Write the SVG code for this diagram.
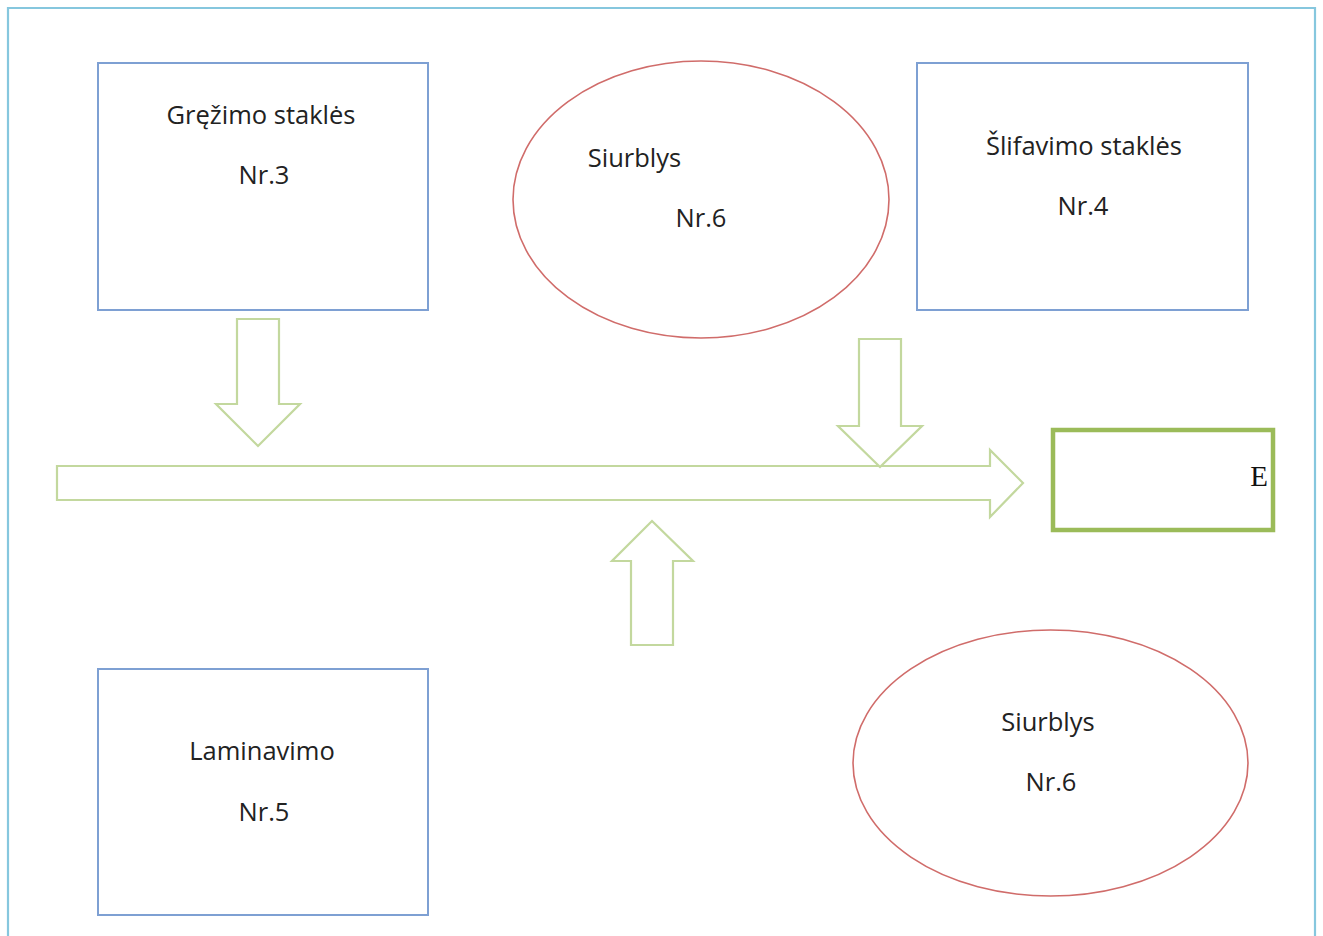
<svg xmlns="http://www.w3.org/2000/svg" width="1323" height="936" viewBox="0 0 1323 936">
  <style>
    .machine { fill: #ffffff; stroke: #7ea0d3; stroke-width: 2; }
    .pump { fill: #ffffff; stroke: #d06c6a; stroke-width: 1.6; }
    .flow { fill: #ffffff; stroke: #c3d89e; stroke-width: 2.2; stroke-linejoin: miter; }
    .label { font-family: "Open Sans", "Liberation Sans", sans-serif; font-size: 25.5px; fill: #222222; text-anchor: middle; }
  </style>
  <rect x="0" y="0" width="1323" height="936" fill="#ffffff"/>
  <!-- outer frame -->
  <path d="M8 940 V8 H1315 V940" fill="none" stroke="#86c7de" stroke-width="2.2"/>

  <g id="node-grezimo">
    <rect class="machine" x="98" y="63" width="330" height="247"/>
    <text class="label" x="261" y="124">Gręžimo staklės</text>
    <text class="label" x="264" y="184">Nr.3</text>
  </g>

  <g id="node-siurblys-top">
    <ellipse class="pump" cx="701" cy="199.5" rx="188" ry="138.5"/>
    <text class="label" x="634.5" y="167">Siurblys</text>
    <text class="label" x="701" y="227">Nr.6</text>
  </g>

  <g id="node-slifavimo">
    <rect class="machine" x="917" y="63" width="331" height="247"/>
    <text class="label" x="1084" y="155">Šlifavimo staklės</text>
    <text class="label" x="1083" y="215">Nr.4</text>
  </g>

  <g id="node-laminavimo">
    <rect class="machine" x="98" y="669" width="330" height="246"/>
    <text class="label" x="262" y="760">Laminavimo</text>
    <text class="label" x="264" y="821">Nr.5</text>
  </g>

  <g id="node-siurblys-bottom">
    <ellipse class="pump" cx="1050.5" cy="763" rx="197.5" ry="133"/>
    <text class="label" x="1048" y="731">Siurblys</text>
    <text class="label" x="1051" y="791">Nr.6</text>
  </g>

  <g id="node-e">
    <rect x="1053" y="430" width="220" height="100" fill="#ffffff" stroke="#9bbb59" stroke-width="4.5"/>
    <text x="1268" y="486" font-family="Liberation Serif, serif" font-size="29" fill="#111111" text-anchor="end">E</text>
  </g>

  <g id="connectors">
    <!-- main flow line -->
    <path class="flow" d="M57 466 H990 V450 L1023 483 L990 517 V500 H57 Z"/>
    <!-- from drilling machine -->
    <path class="flow" d="M237 319 H279 V404 H300 L258 446 L216 404 H237 Z"/>
    <!-- from grinding machine -->
    <path class="flow" d="M859 339 H901 V426 H922 L880 467 L838 426 H859 Z"/>
    <!-- from laminating machine -->
    <path class="flow" d="M631 645 H673 V561 H693 L652 521 L612 561 H631 Z"/>
  </g>
</svg>
